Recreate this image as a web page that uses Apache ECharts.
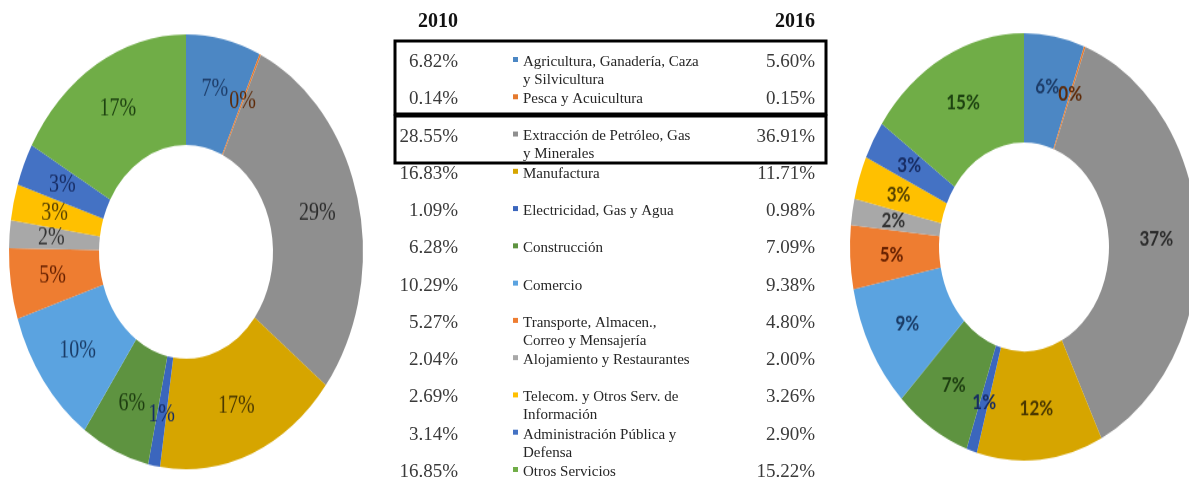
<!DOCTYPE html>
<html>
<head>
<meta charset="utf-8">
<title>PIB por sector 2010 - 2016</title>
<script src="https://cdn.jsdelivr.net/npm/echarts@6/dist/echarts.min.js"></script>
<style>
  html, body { margin: 0; padding: 0; background: #fff; }
  #wrap { position: relative; width: 1189px; height: 484px; overflow: hidden; }
  /* the donuts in the picture are stretched vertically */
  #pies { position: absolute; left: 0; top: 0; width: 1189px; height: 394px;
          transform-origin: 0 0; transform: scaleY(1.2284); }
  #table { position: absolute; left: 0; top: 0; width: 1189px; height: 484px; }
</style>
</head>
<body>
<div id="wrap">
  <div id="pies"></div>
  <div id="table"></div>
</div>
<script>
const years = ['2010', '2016'];

const sectors = [
    'Agricultura, Ganadería, Caza\ny Silvicultura',
    'Pesca y Acuicultura',
    'Extracción de Petróleo, Gas\ny Minerales',
    'Manufactura',
    'Electricidad, Gas y Agua',
    'Construcción',
    'Comercio',
    'Transporte, Almacen.,\nCorreo y Mensajería',
    'Alojamiento y Restaurantes',
    'Telecom. y Otros Serv. de\nInformación',
    'Administración Pública y\nDefensa',
    'Otros Servicios'
];

const share2010 = [6.82, 0.14, 28.55, 16.83, 1.09, 6.28, 10.29, 5.27, 2.04, 2.69, 3.14, 16.85];
const share2016 = [5.60, 0.15, 36.91, 11.71, 0.98, 7.09, 9.38, 4.80, 2.00, 3.26, 2.90, 15.22];

const colors = ['#4c87c4', '#e57a2e', '#8f8f8f', '#d6a500', '#3b66bd', '#5e9340',
                '#5ba3e0', '#ee7d31', '#a8a8a8', '#ffc000', '#4472c4', '#70ad47'];
const labelColors = ['#1d3c68', '#5e2a08', '#2b2b2b', '#4a3800', '#172c63', '#1d3d10',
                     '#1a3b66', '#662000', '#333333', '#574200', '#172c63', '#1d4210'];

// ---- donuts ----
var pieChart = echarts.init(document.getElementById('pies'));

function donut(values, center, radius, font) {
    return {
        type: 'pie',
        center: center,
        radius: radius,
        startAngle: 90,
        clockwise: true,
        silent: true,
        data: values.map(function (v, i) {
            return {
                name: sectors[i],
                value: v,
                itemStyle: {color: colors[i]},
                label: {color: labelColors[i]}
            };
        }),
        label: {
            position: 'inside',
            fontFamily: font.family,
            fontSize: font.size,
            fontWeight: font.weight,
            formatter: function (p) {
                return Math.round(p.value) + '%';
            }
        },
        labelLayout: {hideOverlap: false},
        labelLine: {show: false},
        itemStyle: {borderWidth: 0}
    };
}

pieChart.setOption({
    animation: false,
    series: [
        donut(share2010, [186, 205], [87, 177], {family: 'Liberation Serif', size: 20, weight: 'normal'}),
        donut(share2016, [1024, 201], [85, 174], {family: 'Lato', size: 17, weight: 'bold'})
    ]
});

// ---- middle table ----
var tableChart = echarts.init(document.getElementById('table'));

const rowY = function (i) { return 62 + i * 37.27; };
const pctFont = '19px "Liberation Serif"';
const nameFont = '15px "Liberation Serif"';

let elements = [
    {type: 'text', x: 458, y: 22, style: {text: years[0], font: 'bold 20px "Liberation Serif"', fill: '#111', align: 'right', verticalAlign: 'middle'}},
    {type: 'text', x: 815, y: 22, style: {text: years[1], font: 'bold 20px "Liberation Serif"', fill: '#111', align: 'right', verticalAlign: 'middle'}}
];

sectors.forEach(function (name, i) {
    let y = rowY(i);
    elements.push(
        {type: 'text', x: 458, y: y, style: {text: share2010[i].toFixed(2) + '%', font: pctFont, fill: '#3a3a3a', align: 'right', verticalAlign: 'middle'}},
        {type: 'text', x: 815, y: y, style: {text: share2016[i].toFixed(2) + '%', font: pctFont, fill: '#3a3a3a', align: 'right', verticalAlign: 'middle'}},
        {type: 'rect', shape: {x: 513, y: y - 5, width: 5, height: 5}, style: {fill: colors[i]}},
        {type: 'text', x: 523, y: y - 9, style: {text: name, font: nameFont, lineHeight: 18, fill: '#262626', align: 'left', verticalAlign: 'top'}}
    );
});

// the two highlight boxes
elements.push(
    {type: 'rect', z: 10, shape: {x: 395, y: 41, width: 431, height: 73}, style: {fill: 'none', stroke: '#000', lineWidth: 3}},
    {type: 'rect', z: 10, shape: {x: 395, y: 116, width: 431, height: 47}, style: {fill: 'none', stroke: '#000', lineWidth: 3}}
);

tableChart.setOption({
    animation: false,
    graphic: {elements: elements}
});
</script>
</body>
</html>
